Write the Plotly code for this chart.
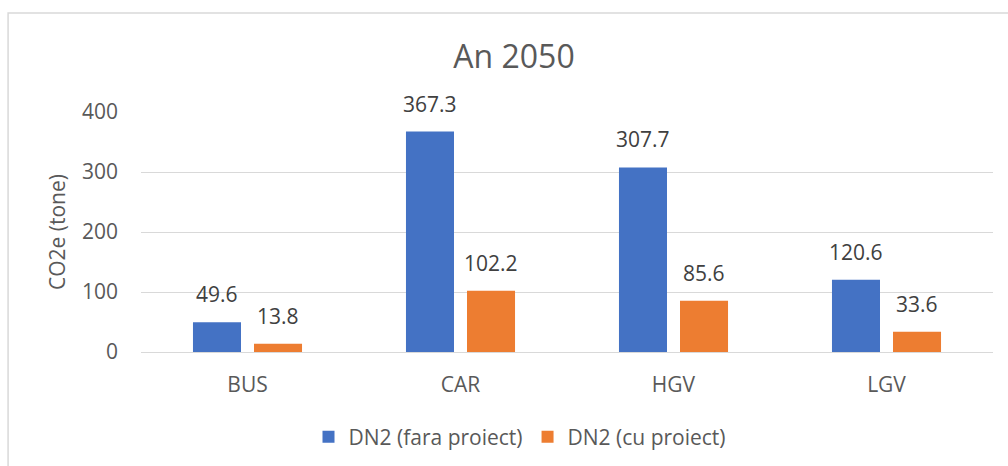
import plotly.graph_objects as go

categories = ["BUS", "CAR", "HGV", "LGV"]
fara_proiect = [49.6, 367.3, 307.7, 120.6]
cu_proiect = [13.8, 102.2, 85.6, 33.6]
y_ticks = [0, 100, 200, 300, 400]

BLUE = "#4472C4"
ORANGE = "#ED7D31"
FONT = "Open Sans"
TXT = "#595959"

fig = go.Figure()
fig.add_trace(go.Bar(x=categories, y=fara_proiect, name="DN2 (fara proiect)",
                     marker=dict(color=BLUE, line=dict(width=0))))
fig.add_trace(go.Bar(x=categories, y=cu_proiect, name="DN2 (cu proiect)",
                     marker=dict(color=ORANGE, line=dict(width=0))))

# value labels centred above each bar of the group
BARGAP = 0.427
half_slot = (1 - BARGAP) / 4
for s, vals in enumerate([fara_proiect, cu_proiect]):
    dx = -half_slot if s == 0 else half_slot
    for i, v in enumerate(vals):
        fig.add_annotation(x=i + dx, y=v, xref="x", yref="y",
                           text=f"{v:.1f}", showarrow=False, yanchor="middle",
                           yshift=28, font=dict(family=FONT, size=21, color="#404040"))

# outer chart frame
fig.add_shape(type="rect", xref="paper", yref="paper",
              x0=-0.156, x1=1.03, y0=-0.6, y1=1.4125,
              line=dict(color="#D9D9D9", width=1.5), fillcolor="rgba(0,0,0,0)", layer="below")

fig.update_layout(
    width=1008, height=466,
    margin=dict(l=141, r=15, t=112, b=114, autoexpand=False),
    paper_bgcolor="white", plot_bgcolor="white",
    barmode="group", bargap=BARGAP, bargroupgap=0.213,
    title=dict(text="An 2050", x=514 / 1008, xanchor="center",
               y=1 - 57 / 466, yanchor="middle",
               font=dict(family=FONT, size=32, color=TXT)),
    font=dict(family=FONT, color=TXT),
    showlegend=True,
    legend=dict(orientation="h", x=(520 - 141) / 852, xanchor="center",
                y=(352 - 437) / 240, yanchor="middle",
                font=dict(family=FONT, size=21, color=TXT)),
    xaxis=dict(showgrid=False, showline=False, ticks="", ticklabelstandoff=18,
               automargin=False,
               tickfont=dict(family=FONT, size=21, color=TXT)),
    yaxis=dict(range=[0, 400], tickvals=y_ticks, showgrid=True, gridcolor="#D9D9D9",
               gridwidth=1.3, zeroline=True, zerolinecolor="#D9D9D9", zerolinewidth=1.3,
               showline=False, ticks="", ticklabelstandoff=22, automargin=False,
               tickfont=dict(family=FONT, size=21, color=TXT),
               title=dict(text="CO2e (tone)", standoff=10,
                          font=dict(family=FONT, size=21, color=TXT))),
)

fig.write_html("out.html")
